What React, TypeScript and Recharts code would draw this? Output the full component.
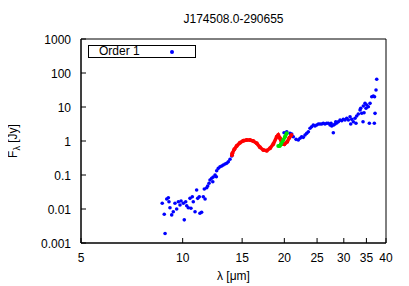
import { ScatterChart, Scatter, XAxis, YAxis, ReferenceArea } from 'recharts'

const xTicks = [5, 10, 15, 20, 25, 30, 35, 40]
const yTicks = [0.001, 0.01, 0.1, 1, 10, 100, 1000]

// Order 1 (blue) - wavelength in um, flux in Jy
const blueLam = [
  8.70, 8.82, 8.87, 8.97, 9.07, 9.11, 9.17, 9.28, 9.38, 9.49, 9.60, 9.71, 9.82, 9.89,
  10.05, 10.11, 10.21, 10.28, 10.39, 10.51, 10.58, 10.68, 10.75, 10.88, 11.00, 11.08,
  11.20, 11.25, 11.38, 11.51, 11.59, 11.65, 11.78, 11.86, 11.97, 12.05, 12.19, 12.28,
  12.32, 12.47, 12.58, 12.61, 12.75, 12.90, 13.05, 13.19, 13.35, 13.50, 13.65, 13.81, 13.97,
  19.96, 20.33, 20.79, 21.03, 21.26, 21.66, 22.00, 22.26, 22.51, 22.76, 23.03, 23.30,
  23.56, 23.83, 24.10, 24.37, 24.65, 24.94, 25.22, 25.51, 25.81, 26.09, 26.39, 26.70,
  26.99, 27.31, 27.50, 27.63, 27.93, 28.00, 28.26, 28.40, 28.59, 28.90, 29.24, 29.58,
  29.90, 30.25, 30.60, 30.94, 31.30, 31.45, 31.66, 32.01, 32.38, 32.60, 32.76, 33.12,
  33.51, 33.67, 33.90, 34.20, 34.27, 34.44, 34.67, 34.91, 35.08, 35.46, 35.71, 35.88,
  36.30, 36.70, 36.94, 37.00, 37.12, 37.37, 37.55,
]
const blueFlux = [
  0.0147, 0.0070, 0.0019, 0.0197, 0.0215, 0.0164, 0.0109, 0.0067, 0.0083, 0.0147, 0.0100, 0.0164, 0.0131, 0.0172,
  0.0147, 0.0048, 0.0164, 0.0125, 0.0109, 0.0206, 0.0105, 0.0230, 0.0164, 0.0083, 0.0362, 0.0206,
  0.0230, 0.0075, 0.0080, 0.0230, 0.0388, 0.0197, 0.0423, 0.0475, 0.0570, 0.0713, 0.0800, 0.0635,
  0.0874, 0.100, 0.0891, 0.134, 0.157, 0.175, 0.184, 0.197, 0.211, 0.221, 0.246, 0.290, 0.362,
  1.75, 1.88, 1.68, 1.61, 1.34, 1.12, 1.07, 1.20, 1.34, 1.28, 1.50, 1.68,
  1.88, 2.36, 2.63, 2.95, 2.76, 2.95, 3.16, 3.16, 3.16, 3.32, 3.16, 3.32,
  3.32, 2.95, 3.32, 2.76, 1.75, 2.95, 3.16, 3.70, 3.38, 3.70, 4.15, 3.95,
  4.35, 4.15, 4.65, 4.15, 5.19, 3.16, 4.35, 3.70, 4.65, 3.32, 5.43, 6.22,
  8.16, 9.16, 6.53, 3.70, 10.7, 6.80, 12.8, 9.16, 11.5, 10.2, 3.32, 12.8,
  20.1, 21.1, 3.32, 20.1, 6.5, 31.6, 65.3,
]

// overlapping segments from other orders
const redLam = [14.0, 14.03, 14.22, 14.45, 14.78, 15.12, 15.47, 15.82, 16.18, 16.57, 16.94, 17.33, 17.74, 18.14, 18.55, 18.99, 19.19, 19.42, 19.7, 20.0, 20.4, 20.7, 21.0]
const redFlux = [0.38, 0.435, 0.57, 0.713, 0.891, 1.02, 1.07, 1.07, 1.0, 0.856, 0.653, 0.544, 0.519, 0.61, 0.816, 1.34, 1.5, 1.2, 0.82, 0.8, 0.95, 1.25, 1.5]
const greenLam = [19.19, 19.4, 19.55, 19.86, 20.09, 20.33]
const greenFlux = [0.713, 0.72, 0.816, 1.07, 1.34, 1.68]

const pts = (lam: number[], flux: number[]) => lam.map((x, i) => ({ lam: x, flux: flux[i] }))

const FONT = '"Liberation Sans", Arial, sans-serif'

function XTick({ x, y, payload }: any) {
  return (
    <g>
      <line x1={x} x2={x} y1={y} y2={y - 5} stroke="#000" />
      <text x={x} y={y + 19} textAnchor="middle" fontSize={12} fontFamily={FONT} fill="#000">{payload.value}</text>
    </g>
  )
}

function YTick({ x, y, payload }: any) {
  return (
    <g>
      <line x1={x} x2={x + 5} y1={y} y2={y} stroke="#000" />
      <text x={x - 10} y={y + 4.5} textAnchor="end" fontSize={12} fontFamily={FONT} fill="#000">{String(payload.value)}</text>
    </g>
  )
}

function YLabel({ viewBox }: any) {
  const cy = viewBox.y + viewBox.height / 2
  return (
    <text x={9} y={cy} transform={`rotate(-90, 9, ${cy})`} textAnchor="middle" fontSize={12} fontFamily={FONT} fill="#000">
      F<tspan fontSize={9} dy={3}>λ</tspan><tspan dy={-3}> [Jy]</tspan>
    </text>
  )
}

function XLabel({ viewBox }: any) {
  return (
    <text x={viewBox.x + viewBox.width / 2} y={272} textAnchor="middle" fontSize={12} fontFamily={FONT} fill="#000">λ [μm]</text>
  )
}

const dot = (color: string, r: number) => (p: any) => <circle cx={p.cx} cy={p.cy} r={r} fill={color} />

export default function App() {
  return (
    <div style={{ position: 'relative', width: 401, height: 278 }}>
      <div style={{ position: 'absolute', left: 73, top: 4, width: 305, textAlign: 'center', fontFamily: FONT, fontSize: 12 }}>
        J174508.0-290655
      </div>
      <ScatterChart width={401} height={278} margin={{ top: 31, right: 23, bottom: 13, left: 13 }}>
        <XAxis type="number" dataKey="lam" scale="log" domain={[5, 40]} ticks={xTicks} allowDataOverflow
          height={30} tickSize={0} tickMargin={0} tick={<XTick />} axisLine={{ stroke: '#000' }} tickLine={false}
          interval={0} label={<XLabel />} />
        <YAxis type="number" dataKey="flux" scale="log" domain={[0.001, 1000]} ticks={yTicks} allowDataOverflow
          width={60} tickSize={0} tickMargin={0} tick={<YTick />} axisLine={{ stroke: '#000' }} tickLine={false}
          interval={0} label={<YLabel />} />
        <ReferenceArea x1={5} x2={40} y1={0.001} y2={1000} fill="none" stroke="#000" strokeWidth={1} />
        <Scatter name="Order 1" data={pts(blueLam, blueFlux)} fill="#0000ff" shape={dot('#0000ff', 1.8)} isAnimationActive={false} />
        <Scatter name="red" legendType="none" data={pts(redLam, redFlux)} fill="#ff0000"
          line={{ stroke: '#ff0000', strokeWidth: 3.5 }} shape={dot('#ff0000', 2)} isAnimationActive={false} />
        <Scatter name="green" legendType="none" data={pts(greenLam, greenFlux)} fill="#00e000"
          line={{ stroke: '#00e000', strokeWidth: 3.5 }} shape={dot('#00e000', 2)} isAnimationActive={false} />
      </ScatterChart>
      <div style={{ position: 'absolute', left: 80, top: 37, width: 106, height: 11, border: '1px solid #000', background: '#fff', fontFamily: FONT, fontSize: 12, lineHeight: '11px' }}>
        <span style={{ position: 'absolute', left: 10, top: 0 }}>Order 1</span>
        <span style={{ position: 'absolute', left: 81, top: 4, width: 4, height: 4, borderRadius: 2, background: '#0000ff' }} />
      </div>
    </div>
  )
}
